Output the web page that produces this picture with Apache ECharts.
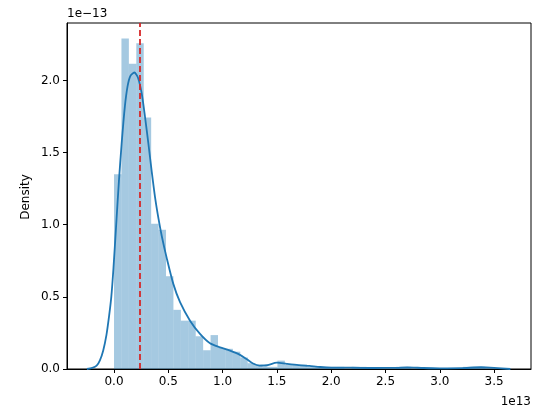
<!DOCTYPE html>
<html>
<head>
<meta charset="utf-8">
<script src="https://cdn.jsdelivr.net/npm/echarts@6/dist/echarts.min.js"></script>
<style>
html,body{margin:0;padding:0;background:#fff;}
#chart{width:545px;height:413px;}
</style>
</head>
<body>
<div id="chart"></div>
<script>
// Units: x in 1e13, y (density) in 1e-13
var binStart = 0.0;
var binWidth = 0.0684;
var binHeights = [
  1.35, 2.29, 2.115, 2.257, 1.743, 1.007, 0.965, 0.643, 0.41, 0.335,
  0.335, 0.227, 0.13, 0.235, 0.146, 0.14, 0.12, 0.08, 0.04, 0.03,
  0.015, 0.015, 0.058, 0.03, 0.03, 0.03, 0.015, 0.015, 0.015, 0.015,
  0.015, 0, 0.015, 0.015, 0, 0, 0, 0, 0.015, 0.015,
  0, 0, 0, 0, 0, 0, 0, 0.015, 0.015, 0.015
];
var kdeX = [-0.25, -0.2, -0.16, -0.13, -0.1, -0.07, -0.045, -0.025, -0.005, 0.02,
  0.045, 0.07, 0.1, 0.125, 0.15, 0.187, 0.22, 0.255, 0.285, 0.316,
  0.347, 0.378, 0.41, 0.44, 0.485, 0.546, 0.608, 0.7, 0.792, 0.884,
  0.976, 1.068, 1.16, 1.22, 1.28, 1.34, 1.41, 1.5, 1.59, 1.7,
  1.8, 1.9, 2.0, 2.2, 2.4, 2.6, 2.7, 2.85, 3.0, 3.2, 3.38, 3.5, 3.65];
var kdeY = [0.0, 0.008, 0.023, 0.06, 0.127, 0.235, 0.37, 0.5, 0.7, 1.0,
  1.3, 1.56, 1.82, 1.96, 2.03, 2.055, 2.02, 1.91, 1.75, 1.565,
  1.37, 1.19, 1.04, 0.92, 0.77, 0.59, 0.463, 0.335, 0.243, 0.178,
  0.15, 0.127, 0.098, 0.069, 0.038, 0.024, 0.026, 0.044, 0.036, 0.027,
  0.021, 0.014, 0.01, 0.009, 0.007, 0.008, 0.011, 0.007, 0.005, 0.006, 0.012, 0.008, 0.0];
var refLineX = 0.24;
var xTicks = [0.0, 0.5, 1.0, 1.5, 2.0, 2.5, 3.0, 3.5];
var yTicks = [0.0, 0.5, 1.0, 1.5, 2.0];
var xRange = [-0.433, 3.84];
var yRange = [0, 2.398];

var histData = binHeights.map(function (h, i) {
  return [binStart + i * binWidth, binStart + (i + 1) * binWidth, h];
});
var kdeData = kdeX.map(function (x, i) { return [x, kdeY[i]]; });

var chart = echarts.init(document.getElementById('chart'), null, {renderer: 'canvas'});
var font = 'DejaVu Sans';
var option = {
  animation: false,
  backgroundColor: '#ffffff',
  grid: {left: 67, right: 14, top: 23, bottom: 44, show: true, borderColor: '#000', borderWidth: 1, backgroundColor: 'transparent'},
  xAxis: {
    type: 'value', min: xRange[0], max: xRange[1],
    axisLine: {show: true, onZero: false, lineStyle: {color: '#000', width: 1}},
    splitLine: {show: false},
    axisTick: {show: true, length: 4, lineStyle: {color: '#000', width: 1}, customValues: xTicks},
    axisLabel: {customValues: xTicks, margin: 7, color: '#000', fontFamily: font, fontSize: 12,
      formatter: function (v) { return v.toFixed(1); }}
  },
  yAxis: {
    type: 'value', min: yRange[0], max: yRange[1],
    axisLine: {show: true, onZero: false, lineStyle: {color: '#000', width: 1}},
    splitLine: {show: false},
    axisTick: {show: true, length: 4, lineStyle: {color: '#000', width: 1}, customValues: yTicks},
    axisLabel: {customValues: yTicks, margin: 7, color: '#000', fontFamily: font, fontSize: 12,
      formatter: function (v) { return v.toFixed(1); }}
  },
  graphic: [
    {type: 'text', x: 26, y: 197, rotation: Math.PI / 2,
      style: {text: 'Density', fill: '#000', font: '12px "DejaVu Sans"', align: 'center', verticalAlign: 'middle'}},
    {type: 'text', x: 531, y: 402,
      style: {text: '1e13', fill: '#000', font: '12px "DejaVu Sans"', align: 'right', verticalAlign: 'middle'}},
    {type: 'text', x: 67, y: 14,
      style: {text: '1e\u221213', fill: '#000', font: '12px "DejaVu Sans"', align: 'left', verticalAlign: 'middle'}}
  ],
  series: [
    {
      type: 'custom',
      data: histData,
      encode: {x: [0, 1], y: 2},
      clip: true,
      renderItem: function (params, api) {
        var p0 = api.coord([api.value(0), api.value(2)]);
        var p1 = api.coord([api.value(1), 0]);
        return {
          type: 'rect',
          shape: {x: p0[0], y: p0[1], width: p1[0] - p0[0], height: p1[1] - p0[1]},
          style: {fill: 'rgba(31,119,180,0.4)'}
        };
      },
      z: 1
    },
    {
      type: 'line',
      data: kdeData,
      smooth: 0.25,
      showSymbol: false,
      symbol: 'none',
      lineStyle: {color: '#1f77b4', width: 1.8},
      z: 3,
      markLine: {
        silent: true,
        symbol: 'none',
        label: {show: false},
        lineStyle: {color: '#d62728', type: [6, 3], width: 1.8},
        data: [{xAxis: refLineX}]
      }
    }
  ]
};
chart.setOption(option);
</script>
</body>
</html>
